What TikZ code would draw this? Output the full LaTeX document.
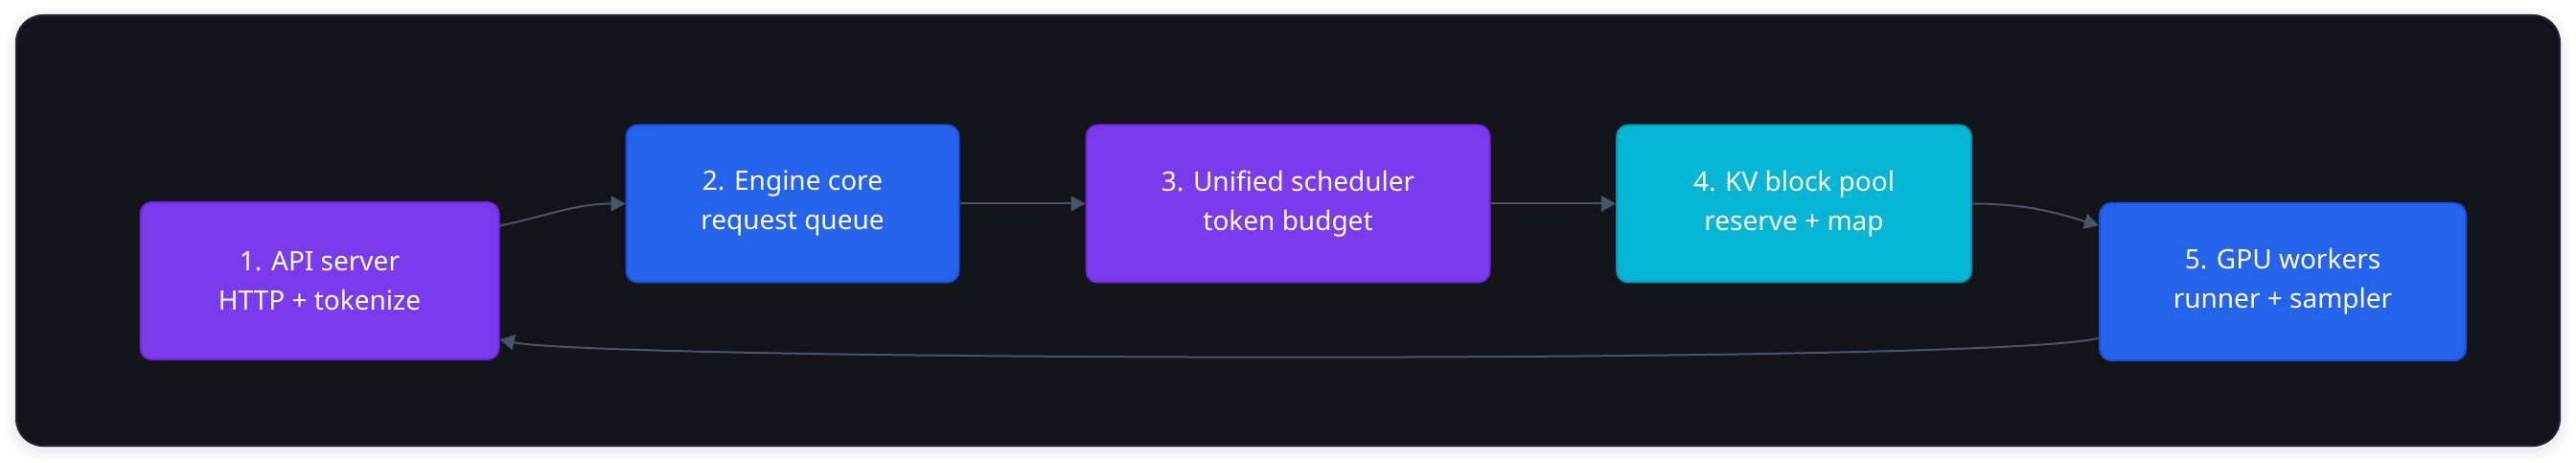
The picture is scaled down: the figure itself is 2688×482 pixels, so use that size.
\documentclass[tikz,border=0pt]{standalone}
\usepackage{fontspec}
\setmainfont{Noto Sans}
\usetikzlibrary{arrows.meta}
\definecolor{pagebg}{HTML}{FFFFFF}
\definecolor{shadowgray}{HTML}{9CA3AF}
\definecolor{panelbg}{HTML}{12141A}
\definecolor{panelrim}{HTML}{1E2736}
\definecolor{purplefill}{HTML}{7C3AED}
\definecolor{purplerim}{HTML}{6D28D9}
\definecolor{bluefill}{HTML}{2563EB}
\definecolor{bluerim}{HTML}{1D4ED8}
\definecolor{cyanfill}{HTML}{06B6D4}
\definecolor{cyanrim}{HTML}{0891B2}
\definecolor{linkgray}{HTML}{475569}
\begin{document}
\begin{tikzpicture}[x=0.5pt,y=0.5pt,
					stage/.style={draw, line width=1pt, rounded corners=6pt, minimum height=82pt,
						text=white, align=center, font=\fontsize{14}{20.5}\selectfont},
					purplebox/.style={stage, fill=purplefill, draw=purplerim},
					bluebox/.style={stage, fill=bluefill, draw=bluerim},
					cyanbox/.style={stage, fill=cyanfill, draw=cyanrim},
					link/.style={draw=linkgray, line width=1pt, -{Triangle[length=7.5pt,width=8pt]}}]
					
					\fill[pagebg] (0,0) rectangle (2688,482);
					\foreach \s/\o in {12/0.03, 9/0.04, 6/0.05, 3/0.06}
						\fill[shadowgray, opacity=\o, rounded corners=18pt] (17-\s,17-\s-4) rectangle (2671+\s,466+\s-4);
					\draw[fill=panelbg, draw=panelrim, line width=1pt, rounded corners=14pt] (17,17) rectangle (2671,466);
					
					\node[purplebox, minimum width=187pt] at (333.5,189) (api) {1. API server\\HTTP + tokenize};
					\node[bluebox, minimum width=173.5pt] at (827,269.5) (engine) {2. Engine core\\request queue};
					\node[purplebox, minimum width=210.5pt] at (1344,269.5) (sched) {3. Unified scheduler\\token budget};
					\node[cyanbox, minimum width=185pt] at (1872,269.5) (kv) {4. KV block pool\\reserve + map};
					\node[bluebox, minimum width=191pt] at (2382,188) (gpu) {5. GPU workers\\runner + sampler};
					
					\draw[link] (api.17) to[out=12, in=180] (engine.west);
					\draw[link] (engine.east) -- (sched.west);
					\draw[link] (sched.east) -- (kv.west);
					\draw[link] (kv.east) to[out=0, in=163] (gpu.163);
					\draw[link] (gpu.197) to[out=195, in=-12, distance=54pt] (api.342);
					
				\end{tikzpicture}
\end{document}
